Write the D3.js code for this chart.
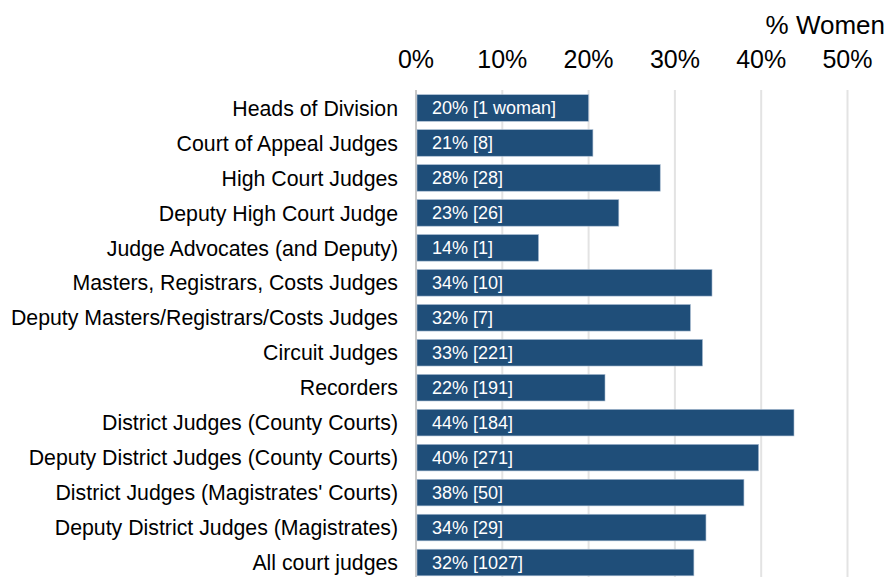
<!DOCTYPE html>
<html>
<head>
<meta charset="utf-8">
<script src="https://cdn.jsdelivr.net/npm/d3@7"></script>
<style>
  body { margin: 0; background: #fff; }
  svg text { font-family: "Liberation Sans", Arial, sans-serif; }
</style>
</head>
<body>
<div id="vis"></div>
<script>
// categories top to bottom
var categories = [
  "Heads of Division",
  "Court of Appeal Judges",
  "High Court Judges",
  "Deputy High Court Judge",
  "Judge Advocates (and Deputy)",
  "Masters, Registrars, Costs Judges",
  "Deputy Masters/Registrars/Costs Judges",
  "Circuit Judges",
  "Recorders",
  "District Judges (County Courts)",
  "Deputy District Judges (County Courts)",
  "District Judges (Magistrates' Courts)",
  "Deputy District Judges (Magistrates)",
  "All court judges"
];
// share of women (%)
var pctWomen = [20.0, 20.5, 28.3, 23.5, 14.2, 34.3, 31.8, 33.2, 21.9, 43.8, 39.7, 38.0, 33.6, 32.2];
// bar labels
var barLabels = [
  "20% [1 woman]", "21% [8]", "28% [28]", "23% [26]", "14% [1]", "34% [10]", "32% [7]",
  "33% [221]", "22% [191]", "44% [184]", "40% [271]", "38% [50]", "34% [29]", "32% [1027]"
];
var tickValues = [0, 10, 20, 30, 40, 50];

var width = 887, height = 577;
var svg = d3.select("#vis").append("svg")
    .attr("width", width)
    .attr("height", height);

var x = d3.scaleLinear().domain([0, 50]).range([416, 847.5]);
var y = d3.scaleBand().domain(categories).range([90.5, 580]).paddingInner(0.24).paddingOuter(0.12);

// gridlines
svg.append("g").selectAll("line")
    .data(tickValues)
    .enter().append("line")
    .attr("x1", function(d) { return x(d); })
    .attr("x2", function(d) { return x(d); })
    .attr("y1", 90)
    .attr("y2", height)
    .attr("stroke", function(d) { return d === 0 ? "#c8c8c8" : "#e3e3e3"; })
    .attr("stroke-width", 2);

// tick labels along the top
svg.append("g").selectAll("text")
    .data(tickValues)
    .enter().append("text")
    .attr("x", function(d) { return x(d); })
    .attr("y", 68)
    .attr("text-anchor", "middle")
    .style("font-size", "25px")
    .attr("fill", "#000")
    .text(function(d) { return d + "%"; });

svg.append("text")
    .attr("x", 885)
    .attr("y", 34)
    .attr("text-anchor", "end")
    .style("font-size", "26px")
    .attr("fill", "#000")
    .text("% Women");

// bars
svg.append("g").selectAll("rect")
    .data(categories)
    .enter().append("rect")
    .attr("x", x(0) + 1)
    .attr("y", function(d) { return y(d); })
    .attr("width", function(d, i) { return x(pctWomen[i]) - x(0) - 1; })
    .attr("height", y.bandwidth())
    .attr("fill", "#1f4e79")
    .attr("stroke", "#a9bcd2")
    .attr("stroke-width", 0.6);

// labels inside bars
svg.append("g").selectAll("text")
    .data(categories)
    .enter().append("text")
    .attr("x", 432)
    .attr("y", function(d) { return y(d) + y.bandwidth() / 2; })
    .attr("dy", "0.36em")
    .style("font-size", "18px")
    .attr("fill", "#fff")
    .text(function(d, i) { return barLabels[i]; });

// category labels
svg.append("g").selectAll("text")
    .data(categories)
    .enter().append("text")
    .attr("x", 398)
    .attr("y", function(d) { return y(d) + y.bandwidth() / 2; })
    .attr("dy", "0.36em")
    .attr("text-anchor", "end")
    .style("font-size", "21.3px")
    .attr("fill", "#000")
    .text(function(d) { return d; });
</script>
</body>
</html>
